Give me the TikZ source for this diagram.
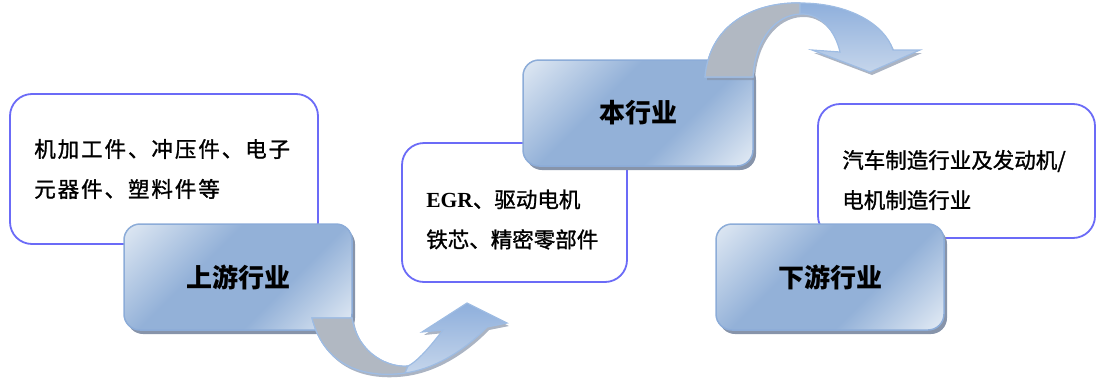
\documentclass[tikz,border=0pt]{standalone}
\usepackage{fontspec}
\newfontfamily\cjk{Noto Sans CJK SC}
\newfontfamily\cjkdesc[FakeBold=1.2]{Noto Sans CJK SC}
\newfontfamily\latin{Liberation Serif}
\usetikzlibrary{shadows}
\definecolor{boxlight}{HTML}{DCE6F2}
\definecolor{boxblue}{HTML}{93B1D8}
\definecolor{boxedge}{HTML}{8CACD8}
\definecolor{boxshadow}{HTML}{8794AA}
\definecolor{descedge}{HTML}{6B6BF7}
\definecolor{tailgrey}{HTML}{B1B8C2}
\definecolor{arrowblue}{HTML}{8EAFDC}
\definecolor{arrowlight}{HTML}{C9D8EC}
\definecolor{arrowedge}{HTML}{9EBCE3}
\pgfdeclareverticalshading{boxshade}{100bp}{color(0bp)=(boxlight); color(17bp)=(boxlight); color(38bp)=(boxblue); color(60bp)=(boxblue); color(84bp)=(boxlight); color(100bp)=(boxlight)}
\tikzstyle{industry} = [rectangle, rounded corners=16pt, minimum width=228pt, minimum height=106pt, inner sep=0pt, draw=boxedge, line width=1.5pt, shading=boxshade, shading angle=45, drop shadow={shadow xshift=3pt, shadow yshift=-4pt, fill=boxshadow, opacity=1}, font=\cjk\bfseries\fontsize{26}{30}\selectfont]
\tikzstyle{desc} = [rectangle, rounded corners=22pt, draw=descedge, line width=1.8pt, fill=white, inner sep=0pt]
\tikzstyle{desctext} = [align=left, inner sep=0pt, anchor=west, font=\cjkdesc\fontsize{21.5}{40}\selectfont]
\tikzstyle{ribbon} = [draw=arrowedge, line width=1.2pt, top color=arrowblue, bottom color=arrowlight, drop shadow={shadow xshift=2pt, shadow yshift=-3pt, fill=boxshadow, opacity=0.7}]
\tikzstyle{ribbontail} = [draw=arrowedge, line width=1.2pt, fill=tailgrey]

\begin{document}
\begin{tikzpicture}[x=1pt, y=-1pt]
\useasboundingbox (0,0) rectangle (1096,378);

% description boxes
\node (updesc) [desc, minimum width=308pt, minimum height=150pt] at (164,169) {};
\node (owndesc) [desc, minimum width=225pt, minimum height=139pt] at (514.5,212.5) {};
\node (downdesc) [desc, minimum width=277pt, minimum height=134pt] at (956.5,171) {};

\node (uptext) [desctext] at ([xshift=25pt]updesc.west) {\addfontfeature{LetterSpace=9}机加工件、冲压件、电子\\\addfontfeature{LetterSpace=9}元器件、塑料件等};
\node (owntext) [desctext] at ([xshift=25pt, yshift=-7pt]owndesc.west) {{\latin\bfseries EGR}、驱动电机\\铁芯、精密零部件};
\node (downtext) [desctext] at ([xshift=25pt, yshift=-9pt]downdesc.west) {汽车制造行业及发动机/\\电机制造行业};

% industry boxes
\node (upstream) [industry] at (238,277) {上游行业};
\node (own) [industry, minimum width=230pt] at (638,113) {本行业};
\node (downstream) [industry] at (830,277) {下游行业};

% ribbon arrows
\path [ribbon] (312,318) .. controls (325,370) and (370,378) .. (405,373)
  .. controls (440,368) and (470,345) .. (487,327) -- (507,323) -- (467,303)
  -- (422,332) -- (443,330) .. controls (435,340) and (420,360) .. (408,366)
  .. controls (390,368) and (358,355) .. (352,318) -- cycle;
\path [ribbontail] (312,318) .. controls (325,370) and (370,378) .. (405,373)
  -- (408,366) .. controls (390,368) and (358,355) .. (352,318) -- cycle;

\path [ribbon] (705,77) .. controls (710,20) and (760,2) .. (800,3)
  .. controls (850,3) and (885,25) .. (893,50) -- (920,50) -- (870,72)
  -- (812,50) -- (840,52) .. controls (835,30) and (820,13) .. (800,14)
  .. controls (775,15) and (755,40) .. (753,77) -- cycle;
\path [ribbontail] (705,77) .. controls (710,20) and (760,2) .. (800,3)
  -- (800,14) .. controls (775,15) and (755,40) .. (753,77) -- cycle;

\end{tikzpicture}
\end{document}
